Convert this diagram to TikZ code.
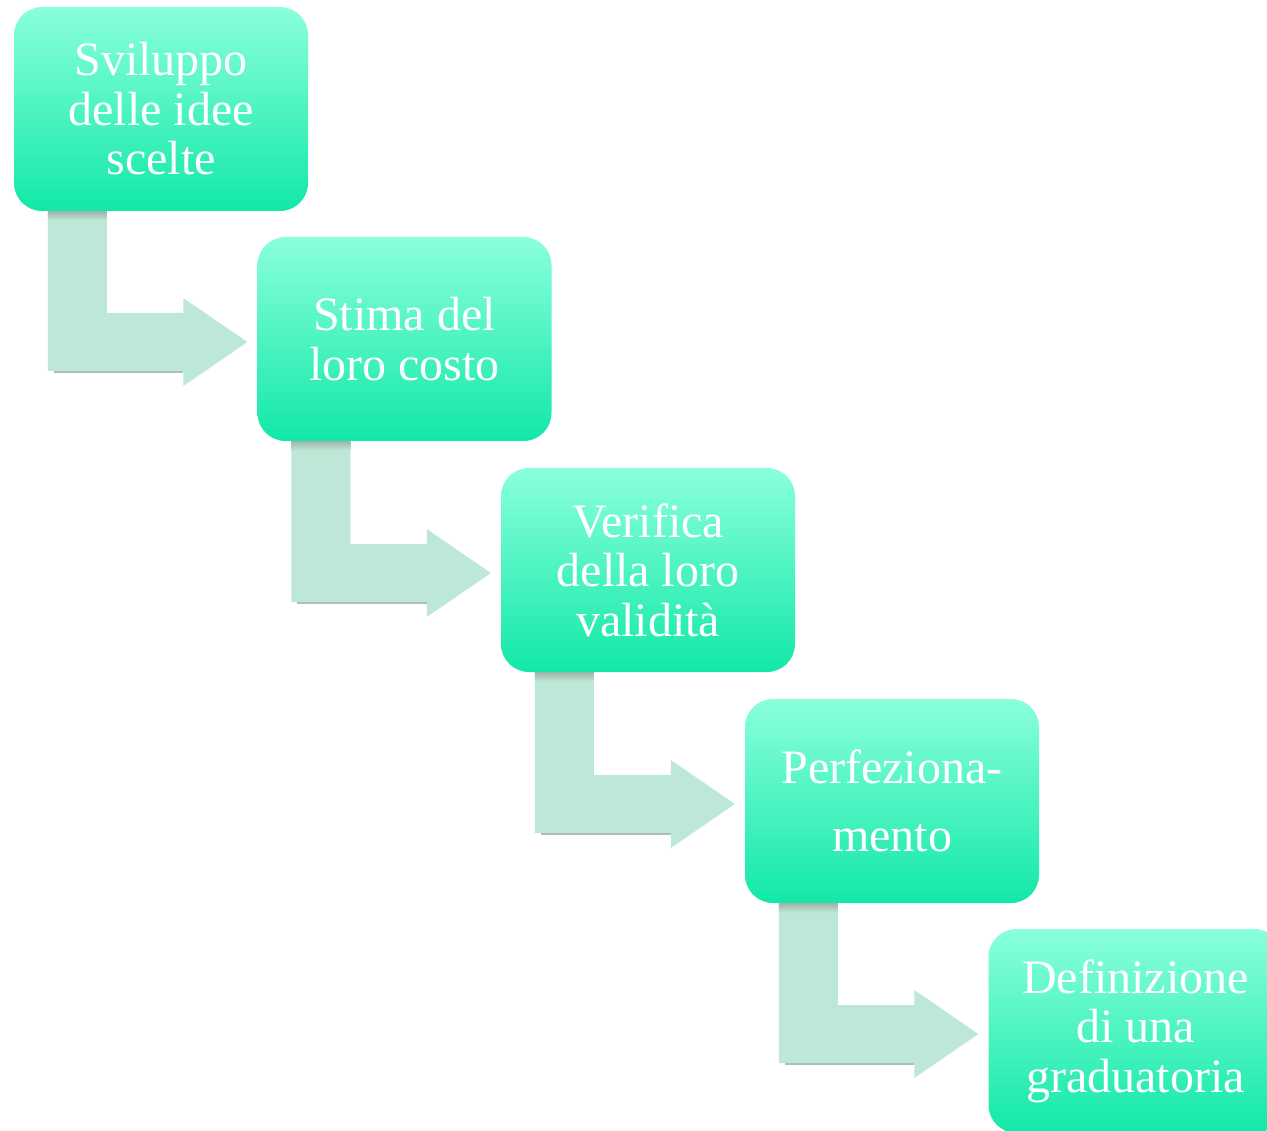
\documentclass[tikz,border=0pt]{standalone}
\usepackage{fontspec}
\setmainfont{Liberation Serif}
\usetikzlibrary{calc}
\definecolor{boxtop}{HTML}{8AFFDC}
\definecolor{boxbot}{HTML}{12E8A8}
\definecolor{arrowfill}{HTML}{BDE7D6}
\definecolor{arrowshade}{HTML}{9EB4AA}
\tikzset{
  stepbox/.style={rounded corners=28pt, minimum width=294pt, minimum height=204pt,
    top color=boxtop, bottom color=boxbot, text=white, align=center,
    font=\fontsize{48}{49.5}\selectfont, inner sep=0pt},
  bentfill/.style={fill=arrowfill},
  bentshade/.style={top color=arrowshade, bottom color=arrowfill},
  bentline/.style={fill=arrowshade!85},
}
\newcommand{\bentarr}[2]{%
  \path[bentfill] let \p1=(#1.south west), \p2=($(#2.west)+(-10,3)$) in
    (\x1+34pt,\y1) -- (\x1+93pt,\y1) -- (\x1+93pt,\y2+29pt) -- (\x2-64pt,\y2+29pt)
    -- (\x2-64pt,\y2+44pt) -- (\x2,\y2) -- (\x2-64pt,\y2-44pt) -- (\x2-64pt,\y2-29pt)
    -- (\x1+34pt,\y2-29pt) -- cycle;
  \path[bentshade] let \p1=(#1.south west) in
    (\x1+34pt,\y1) rectangle (\x1+93pt,\y1-9pt);
  \path[bentline] let \p1=(#1.south west), \p2=($(#2.west)+(-10,3)$) in
    (\x1+40pt,\y2-29pt) rectangle (\x2-64pt,\y2-31pt);
}
\begin{document}
\begin{tikzpicture}[x=1pt,y=-1pt]
\clip (0,0) rectangle (1267,1131);
\fill[white] (0,0) rectangle (1267,1131);
\node[stepbox] (b1) at (161,109) {Sviluppo\\delle idee\\scelte};
\node[stepbox] (b2) at (404.5,339) {Stima del\\loro costo};
\node[stepbox] (b3) at (648,570) {Verifica\\della loro\\validità};
\node[stepbox] (b4) at (892,801) {Perfeziona-\\[18pt]mento};
\node[stepbox] (b5) at (1135.5,1031) {Definizione\\di una\\graduatoria};
\bentarr{b1}{b2}
\bentarr{b2}{b3}
\bentarr{b3}{b4}
\bentarr{b4}{b5}
\end{tikzpicture}
\end{document}
